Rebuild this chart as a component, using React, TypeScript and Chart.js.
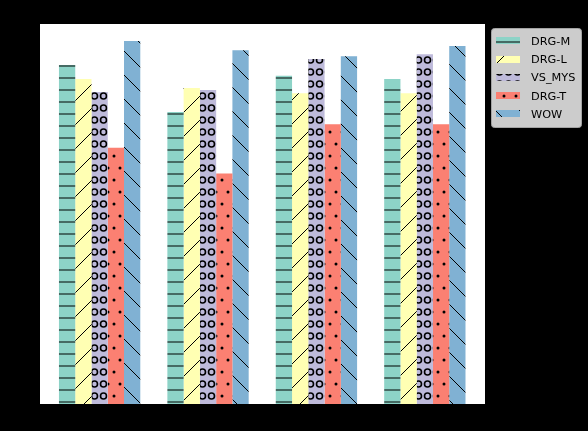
import React, { useEffect, useRef } from "react";
import { Chart, registerables } from "chart.js";

Chart.register(...registerables);

// ---- data ----
const categories = ["1", "2", "3", "4"];
const seriesNames = ["DRG-M", "DRG-L", "VS_MYS", "DRG-T", "WOW"];
const drgM = [0.843, 0.726, 0.816, 0.808];
const drgL = [0.808, 0.786, 0.773, 0.773];
const vsMys = [0.776, 0.781, 0.858, 0.87];
const drgT = [0.637, 0.573, 0.696, 0.696];
const wow = [0.903, 0.88, 0.865, 0.89];
const seriesValues = [drgM, drgL, vsMys, drgT, wow];
const seriesColors = ["#8dd3c7", "#ffffb3", "#bebada", "#fb8072", "#80b1d3"];
const yMax = 0.945;

function makePattern(
  w: number,
  h: number,
  bg: string,
  draw: (g: CanvasRenderingContext2D) => void
): CanvasPattern | string {
  const c = document.createElement("canvas");
  c.width = w;
  c.height = h;
  const g = c.getContext("2d");
  if (!g) return bg;
  g.fillStyle = bg;
  g.fillRect(0, 0, w, h);
  draw(g);
  return g.createPattern(c, "repeat") || bg;
}

function buildPatterns() {
  const hLines = makePattern(12, 12, seriesColors[0], (g) => {
    g.fillStyle = "#466b64";
    g.fillRect(0, 5, 12, 2);
  });
  const slash = makePattern(24, 24, seriesColors[1], (g) => {
    g.strokeStyle = "#000";
    g.lineWidth = 1;
    for (const c of [-16, 8, 32, 56]) {
      g.beginPath();
      g.moveTo(c + 6, -6);
      g.lineTo(c - 30, 30);
      g.stroke();
    }
  });
  const circles = makePattern(9, 12, seriesColors[2], (g) => {
    g.strokeStyle = "#000";
    g.lineWidth = 1.6;
    for (const [cx, cy] of [[4.5, 0], [4.5, 12]]) {
      g.beginPath();
      g.arc(cx, cy, 3, 0, Math.PI * 2);
      g.stroke();
    }
  });
  const dots = makePattern(12, 24, seriesColors[3], (g) => {
    g.fillStyle = "#000";
    for (const [cx, cy] of [[0, 0], [12, 0], [0, 24], [12, 24], [6, 12]]) {
      g.beginPath();
      g.arc(cx, cy, 1.5, 0, Math.PI * 2);
      g.fill();
    }
  });
  const backslash = makePattern(24, 24, seriesColors[4], (g) => {
    g.strokeStyle = "#000";
    g.lineWidth = 1;
    for (const c of [-25, -1, 23, 47]) {
      g.beginPath();
      g.moveTo(-6, -6 + c);
      g.lineTo(30, 30 + c);
      g.stroke();
    }
  });
  return [hLines, slash, circles, dots, backslash];
}

export default function App() {
  const ref = useRef<HTMLCanvasElement | null>(null);

  useEffect(() => {
    if (!ref.current) return;
    const patterns = buildPatterns();

    const bgPlugin = {
      id: "bgPlugin",
      beforeDraw(chart: any) {
        const { ctx, chartArea } = chart;
        ctx.save();
        ctx.fillStyle = "#000";
        ctx.fillRect(0, 0, chart.width, chart.height);
        ctx.fillStyle = "#fff";
        ctx.fillRect(
          chartArea.left,
          chartArea.top,
          chartArea.right - chartArea.left,
          chartArea.bottom - chartArea.top
        );
        ctx.restore();
      },
    };

    const legendPlugin = {
      id: "customLegend",
      afterDraw(chart: any) {
        const ctx = chart.ctx as CanvasRenderingContext2D;
        ctx.save();
        const bx = 491.5, by = 28.5, bw = 90, bh = 99, r = 3;
        ctx.beginPath();
        ctx.moveTo(bx + r, by);
        ctx.lineTo(bx + bw - r, by);
        ctx.quadraticCurveTo(bx + bw, by, bx + bw, by + r);
        ctx.lineTo(bx + bw, by + bh - r);
        ctx.quadraticCurveTo(bx + bw, by + bh, bx + bw - r, by + bh);
        ctx.lineTo(bx + r, by + bh);
        ctx.quadraticCurveTo(bx, by + bh, bx, by + bh - r);
        ctx.lineTo(bx, by + r);
        ctx.quadraticCurveTo(bx, by, bx + r, by);
        ctx.closePath();
        ctx.fillStyle = "#cccccc";
        ctx.fill();
        ctx.strokeStyle = "#a3a3a3";
        ctx.lineWidth = 1;
        ctx.stroke();

        ctx.font = '11.3px "DejaVu Sans"';
        ctx.textBaseline = "alphabetic";
        ctx.textAlign = "left";
        seriesNames.forEach((name, i) => {
          const cy = 40.7 + i * 18.3;
          ctx.fillStyle = patterns[i] as any;
          ctx.fillRect(496, Math.round(cy - 3.5), 24, 7);
          ctx.fillStyle = "#000";
          ctx.fillText(name, 531, cy + 4);
        });
        ctx.restore();
      },
    };

    const chart = new Chart(ref.current, {
      type: "bar",
      data: {
        labels: categories,
        datasets: seriesNames.map((name, i) => ({
          label: name,
          data: seriesValues[i].map((v, j) => ({ x: j, y: v })),
          backgroundColor: patterns[i] as any,
          borderWidth: 0,
          categoryPercentage: 0.75,
          barPercentage: 1,
        })),
      },
      options: {
        animation: false,
        responsive: false,
        devicePixelRatio: 1,
        layout: { padding: { left: 40, right: 103, top: 24, bottom: 27 } },
        scales: {
          x: {
            type: "linear",
            min: -0.55,
            max: 3.555,
            offset: false,
            display: false,
            afterBuildTicks: (scale: any) => {
              scale.ticks = categories.map((_, i) => ({ value: i }));
            },
          },
          y: { min: 0, max: yMax, display: false },
        },
        plugins: {
          legend: { display: false },
          tooltip: { enabled: false },
        },
      },
      plugins: [bgPlugin, legendPlugin],
    });
    return () => chart.destroy();
  }, []);

  return (
    <div style={{ position: "fixed", left: 0, top: 0, width: 588, height: 431, background: "#000" }}>
      <canvas ref={ref} width={588} height={431} style={{ display: "block", width: 588, height: 431 }} />
    </div>
  );
}
